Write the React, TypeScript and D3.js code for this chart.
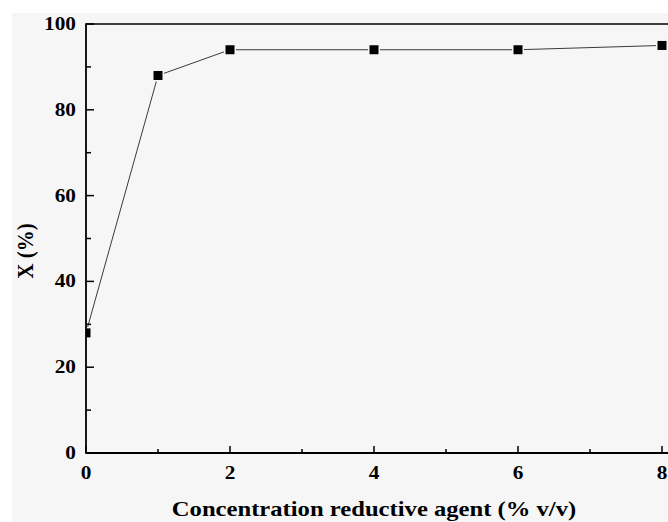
import React from "react";
import * as d3 from "d3";

const concentrations = [0, 1, 2, 4, 6, 8];
const conversion = [28, 88, 94, 94, 94, 95];
const xTickValues = [0, 2, 4, 6, 8];
const xMinorTicks = [1, 3, 5, 7];
const yTickValues = [0, 20, 40, 60, 80, 100];
const yMinorTicks = [10, 30, 50, 70, 90];
const xTitle = "Concentration reductive agent (% v/v)";
const yTitle = "X (%)";

const W = 668;
const H = 522;
const BG = "#f6f6f6";
const FONT = "'Liberation Serif', 'Times New Roman', serif";
const SX = 1.12;

export default function App() {
  const left = 86, top = 24, bottom = 453;
  const x = d3.scaleLinear().domain([0, 8]).range([left, 662]);
  const y = d3.scaleLinear().domain([0, 100]).range([bottom, top]);
  const pts = concentrations.map((c, i) => [x(c), y(conversion[i])] as [number, number]);
  const line = d3.line()(pts) as string;
  return (
    <svg width={W} height={H} style={{ position: "absolute", left: 0, top: 0 }}>
      <rect x={0} y={0} width={W} height={H} fill="#ffffff" />
      <rect x={12} y={13} width={W - 12} height={H - 13} fill={BG} />
      <defs>
        <clipPath id="plotclip">
          <rect x={left} y={0} width={W} height={H} />
        </clipPath>
      </defs>
      <g clipPath="url(#plotclip)">
        <path d={line} fill="none" stroke="#3a3a3a" strokeWidth={1} />
        {pts.map((p, i) => (
          <rect key={i} x={p[0] - 4.5} y={p[1] - 4.5} width={9} height={9} fill="#000" stroke={BG} strokeWidth={3} paintOrder="stroke" />
        ))}
      </g>
      <line x1={left} y1={top} x2={W} y2={top} stroke="#000" strokeWidth={1.6} />
      <line x1={left} y1={top - 0.8} x2={left} y2={bottom + 0.8} stroke="#000" strokeWidth={1.8} />
      <line x1={left} y1={bottom} x2={W} y2={bottom} stroke="#000" strokeWidth={1.8} />
      {xTickValues.map((t) => (
        <g key={"xt" + t}>
          <line x1={x(t)} x2={x(t)} y1={bottom} y2={bottom - 7} stroke="#000" strokeWidth={1.5} />
          <text transform={`translate(${x(t)},479) scale(${SX},1)`} textAnchor="middle" fontFamily={FONT} fontWeight="bold" fontSize={19}>{t}</text>
        </g>
      ))}
      {xMinorTicks.map((t) => (
        <line key={"xm" + t} x1={x(t)} x2={x(t)} y1={bottom} y2={bottom - 4} stroke="#000" strokeWidth={1.5} />
      ))}
      {yTickValues.map((t) => (
        <g key={"yt" + t}>
          <line x1={left} x2={left + 8} y1={y(t)} y2={y(t)} stroke="#000" strokeWidth={1.5} />
          <text transform={`translate(76,${y(t) + 6}) scale(${SX},1)`} textAnchor="end" fontFamily={FONT} fontWeight="bold" fontSize={19}>{t}</text>
        </g>
      ))}
      {yMinorTicks.map((t) => (
        <line key={"ym" + t} x1={left} x2={left + 5} y1={y(t)} y2={y(t)} stroke="#000" strokeWidth={1.5} />
      ))}
      <text transform={`translate(374,516) scale(${SX},1)`} textAnchor="middle" fontFamily={FONT} fontWeight="bold" fontSize={22}>{xTitle}</text>
      <text transform={`translate(33,251) scale(${SX},1) rotate(-90)`} textAnchor="middle" fontFamily={FONT} fontWeight="bold" fontSize={21}>{yTitle}</text>
    </svg>
  );
}
